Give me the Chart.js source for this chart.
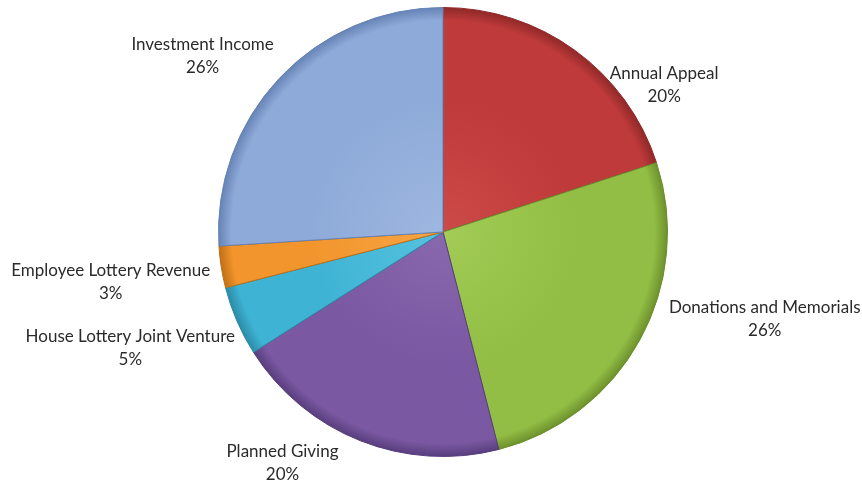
<!DOCTYPE html>
<html>
<head>
<meta charset="utf-8">
<script src="https://cdn.jsdelivr.net/npm/chart.js@4/dist/chart.umd.min.js"></script>
<style>
  html, body { margin: 0; padding: 0; background: #ffffff; }
  #wrap { width: 862px; height: 484px; }
</style>
</head>
<body>
<div id="wrap"><canvas id="c" width="862" height="484"></canvas></div>
<script>
// ---- data ----
const categories = [
  "Annual Appeal",
  "Donations and Memorials",
  "Planned Giving",
  "House Lottery Joint Venture",
  "Employee Lottery Revenue",
  "Investment Income"
];
const shares = [20, 26, 20, 5, 3, 26];

// ---- styling ----
const baseColors = ["#BF3A3A", "#92BE45", "#7A58A2", "#3FB3D4", "#F2952C", "#8EAAD8"];
const lightColors = ["#CC4A48", "#A2CC55", "#8868AE", "#55C2DF", "#F7A545", "#9DB7E0"];
const darkColors = ["#8E2828", "#6B8F2C", "#573D7C", "#2A8AA6", "#C06E14", "#6582B5"];
// label anchor offsets (in units of the pie radius, relative to the centre)
const labelOffsets = [
  [0.985, -0.656],
  [1.433, 0.388],
  [-0.715, 1.031],
  [-1.393, 0.518],
  [-1.480, 0.223],
  [-1.071, -0.786]
];

function sliceFill(ctx) {
  const chart = ctx.chart;
  const a = chart.chartArea;
  const i = ctx.dataIndex;
  if (!a) return baseColors[i];
  const cx = (a.left + a.right) / 2;
  const cy = (a.top + a.bottom) / 2;
  const r = Math.min(a.right - a.left, a.bottom - a.top) / 2;
  const g = chart.ctx.createRadialGradient(cx, cy, 0, cx, cy, r);
  g.addColorStop(0, lightColors[i]);
  g.addColorStop(0.6, baseColors[i]);
  g.addColorStop(0.94, baseColors[i]);
  g.addColorStop(1, darkColors[i]);
  return g;
}

const outsideLabels = {
  id: 'outsideLabels',
  afterDatasetsDraw(chart) {
    const meta = chart.getDatasetMeta(0);
    const ctx = chart.ctx;
    const data = chart.data.datasets[0].data;
    const total = data.reduce((a, b) => a + b, 0);
    ctx.save();
    ctx.font = '17px Lato, "Open Sans", sans-serif';
    ctx.fillStyle = '#2a2a2a';
    ctx.textAlign = 'center';
    ctx.textBaseline = 'middle';
    meta.data.forEach((arc, i) => {
      const r = arc.outerRadius;
      const x = arc.x + labelOffsets[i][0] * r;
      const y = arc.y + labelOffsets[i][1] * r;
      const pct = Math.round(data[i] / total * 100) + '%';
      ctx.fillText(chart.data.labels[i], x, y - 11.5);
      ctx.fillText(pct, x, y + 11.5);
    });
    ctx.restore();
  }
};

new Chart(document.getElementById('c'), {
  type: 'pie',
  data: {
    labels: categories,
    datasets: [{
      data: shares,
      backgroundColor: sliceFill,
      borderColor: darkColors,
      borderWidth: 1
    }]
  },
  options: {
    responsive: false,
    animation: false,
    rotation: 0,
    layout: { padding: { left: 218, right: 194, top: 7, bottom: 27 } },
    plugins: {
      legend: { display: false },
      tooltip: { enabled: false },
      title: { display: false }
    }
  },
  plugins: [outsideLabels]
});
</script>
</body>
</html>
